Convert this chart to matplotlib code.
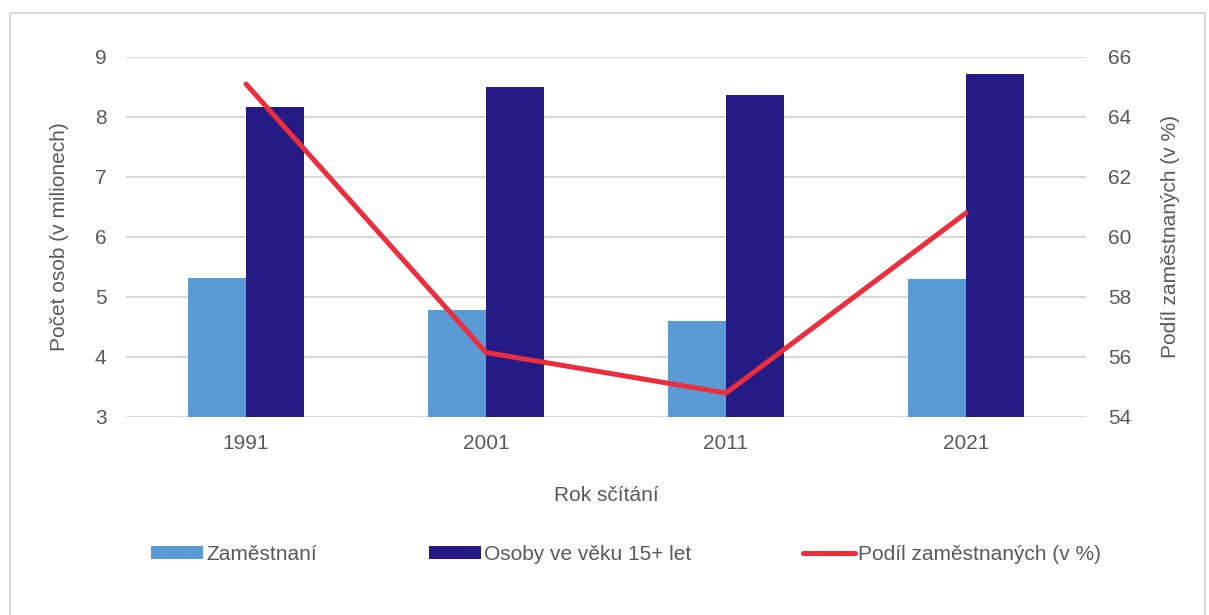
import matplotlib.pyplot as plt
import matplotlib.patches as mpatches
import numpy as np

plt.rcParams['font.family'] = ['Liberation Sans', 'DejaVu Sans']

# Data
roky = ['1991', '2001', '2011', '2021']
zamestnani = [5.32, 4.78, 4.60, 5.30]
osoby_15 = [8.16, 8.50, 8.37, 8.72]
podil = [65.1, 56.15, 54.8, 60.8]

svetla = '#5B9BD5'
tmava = '#241C84'
cervena = '#EC2D3E'
seda_txt = '#595959'
mrizka = '#D9D9D9'

fig = plt.figure(figsize=(12.09, 6.15), dpi=100)
ax = fig.add_axes([126 / 1209, 1 - 417 / 615, 960 / 1209, 360 / 615])
ax2 = ax.twinx()

x = np.arange(len(roky))
w = 0.242
ax.bar(x - w / 2, zamestnani, w, color=svetla, label='Zaměstnaní', zorder=2)
ax.bar(x + w / 2, osoby_15, w, color=tmava, label='Osoby ve věku 15+ let', zorder=2)
ax2.plot(x, podil, color=cervena, lw=3.6, solid_capstyle='round',
         solid_joinstyle='miter', label='Podíl zaměstnaných (v %)')

ax.set_xlim(-0.5, 3.5)
ax.set_ylim(3, 9)
ax2.set_ylim(54, 66)
ax.set_yticks(range(3, 10))
ax2.set_yticks(range(54, 67, 2))
ax.set_xticks(x)
ax.set_xticklabels(roky)

ax.grid(axis='y', color=mrizka, lw=1.5, zorder=0)
ax.set_axisbelow(True)
for a in (ax, ax2):
    for s in a.spines.values():
        s.set_visible(False)
    a.tick_params(length=0, labelsize=15, colors=seda_txt)
ax.tick_params(axis='y', pad=14)
ax2.tick_params(axis='y', pad=16)
ax.tick_params(axis='x', pad=12)

ax.set_ylabel('Počet osob (v milionech)', fontsize=15, color=seda_txt, labelpad=18.5)
ax2.set_ylabel('Podíl zaměstnaných (v %)', fontsize=15, color=seda_txt, labelpad=21)
ax.set_xlabel('Rok sčítání', fontsize=15, color=seda_txt, labelpad=24)

h1, l1 = ax.get_legend_handles_labels()
h2, l2 = ax2.get_legend_handles_labels()
leg = fig.legend(h1 + h2, l1 + l2, loc='center', bbox_to_anchor=(626 / 1209, 1 - 554 / 615),
                 ncol=3, frameon=False, fontsize=15, handlelength=2.5, handleheight=0.6,
                 handletextpad=0.15, columnspacing=5.35)
for t in leg.get_texts():
    t.set_color(seda_txt)

# ramecek kolem grafu
fig.patches.append(mpatches.Rectangle((10 / 1209, -0.02), 1195 / 1209, 1.02 - 13 / 615,
                                      transform=fig.transFigure, fill=False,
                                      edgecolor='#D9D9D9', lw=1.5))

fig.savefig('out.png', dpi=100)
